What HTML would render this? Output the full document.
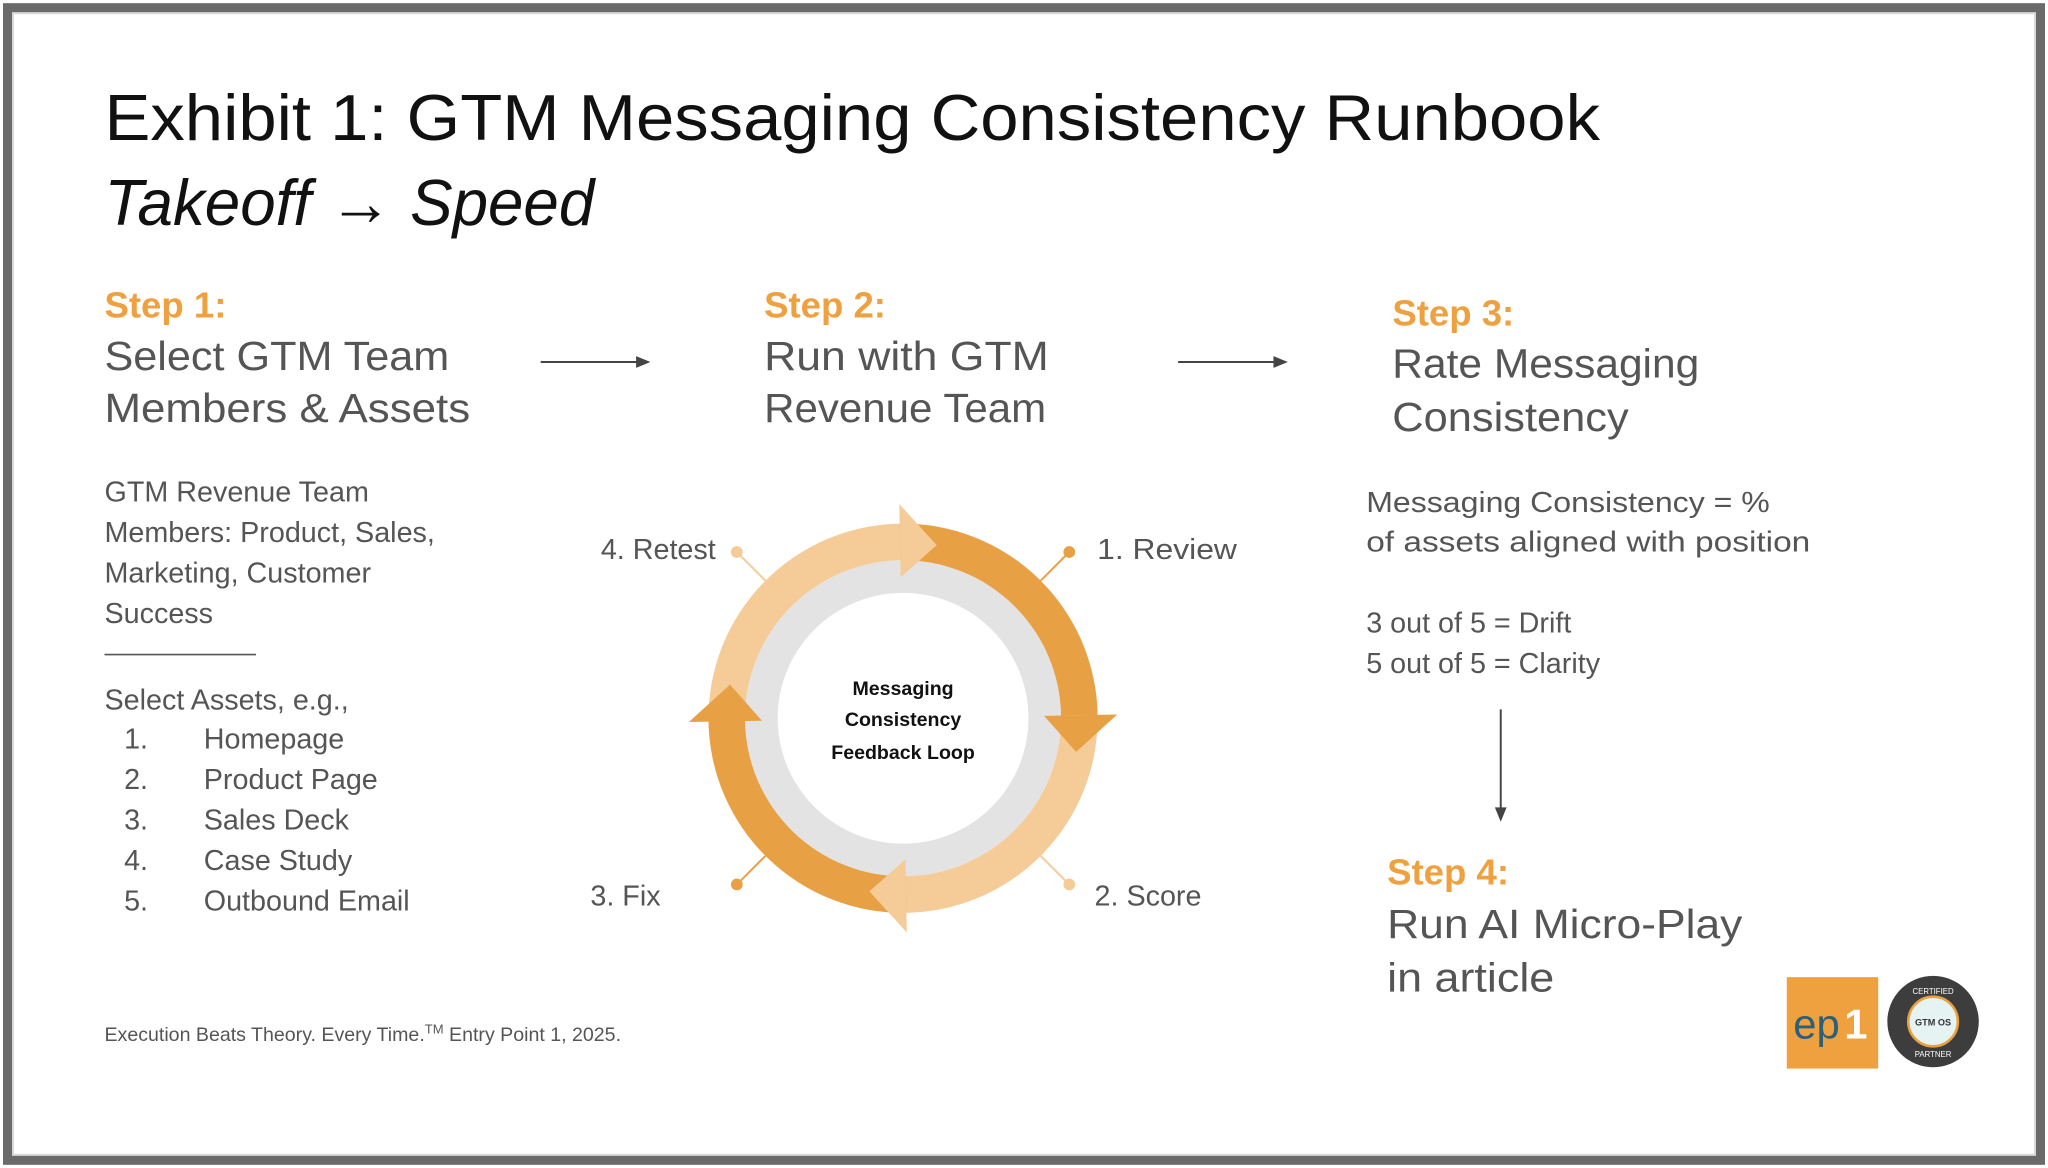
<!DOCTYPE html>
<html><head><meta charset="utf-8"><style>
html,body{margin:0;padding:0;background:#fff;}
svg{display:block;}
text{font-family:"Liberation Sans",sans-serif;}
</style></head><body>
<svg id="s" width="2048" height="1168" viewBox="0 0 1568 894" xmlns="http://www.w3.org/2000/svg">
<rect x="0" y="0" width="1568" height="894" fill="#fff"/>
<rect x="5.8" y="5.8" width="1556.4" height="882.4" fill="none" stroke="#6a6a6a" stroke-width="7"/>
<rect x="10" y="10" width="1548" height="874" fill="none" stroke="#d8d8d8" stroke-width="1.5"/>

<text x="80" y="107" font-size="50" fill="#111" textLength="1145" lengthAdjust="spacingAndGlyphs">Exhibit 1: GTM Messaging Consistency Runbook</text>
<text x="80" y="172" font-size="50" font-style="italic" fill="#111" textLength="375" lengthAdjust="spacingAndGlyphs">Takeoff → Speed</text>

<g font-weight="bold" fill="#EFA03F" font-size="28">
<text x="80" y="243">Step 1:</text>
<text x="585" y="243">Step 2:</text>
<text x="1066" y="249">Step 3:</text>
<text x="1062" y="677">Step 4:</text>
</g>
<g fill="#555" font-size="31">
<text x="80" y="283" textLength="264" lengthAdjust="spacingAndGlyphs">Select GTM Team</text>
<text x="80" y="323" textLength="280" lengthAdjust="spacingAndGlyphs">Members &amp; Assets</text>
<text x="585" y="283" textLength="218" lengthAdjust="spacingAndGlyphs">Run with GTM</text>
<text x="585" y="323" textLength="216" lengthAdjust="spacingAndGlyphs">Revenue Team</text>
<text x="1066" y="289" textLength="235" lengthAdjust="spacingAndGlyphs">Rate Messaging</text>
<text x="1066" y="330" textLength="181" lengthAdjust="spacingAndGlyphs">Consistency</text>
<text x="1062" y="718" textLength="272" lengthAdjust="spacingAndGlyphs">Run AI Micro-Play</text>
<text x="1062" y="759" textLength="128" lengthAdjust="spacingAndGlyphs">in article</text>
</g>

<g fill="#555" font-size="22">
<text x="80" y="384">GTM Revenue Team</text>
<text x="80" y="415">Members: Product, Sales,</text>
<text x="80" y="446">Marketing, Customer</text>
<text x="80" y="477">Success</text>
<text x="80" y="543">Select Assets, e.g.,</text>
<text x="95" y="573">1.</text><text x="156" y="573">Homepage</text>
<text x="95" y="604">2.</text><text x="156" y="604">Product Page</text>
<text x="95" y="635">3.</text><text x="156" y="635">Sales Deck</text>
<text x="95" y="666">4.</text><text x="156" y="666">Case Study</text>
<text x="95" y="697">5.</text><text x="156" y="697">Outbound Email</text>
<text x="1046" y="392" textLength="309" lengthAdjust="spacingAndGlyphs">Messaging Consistency = %</text>
<text x="1046" y="422" textLength="340" lengthAdjust="spacingAndGlyphs">of assets aligned with position</text>
<text x="1046" y="484">3 out of 5 = Drift</text>
<text x="1046" y="515">5 out of 5 = Clarity</text>
<text x="548" y="428" text-anchor="end">4. Retest</text>
<text x="840" y="428" textLength="107" lengthAdjust="spacingAndGlyphs">1. Review</text>
<text x="452" y="693">3. Fix</text>
<text x="838" y="693">2. Score</text>
</g>
<line x1="80" y1="501" x2="196" y2="501" stroke="#555" stroke-width="1.2"/>
<text x="80" y="797" font-size="15" fill="#555">Execution Beats Theory. Every Time.<tspan font-size="10" dy="-6">TM</tspan><tspan dy="6"> Entry Point 1, 2025.</tspan></text>

<g stroke="#444" stroke-width="1.5" fill="#444">
<line x1="414" y1="277" x2="490" y2="277"/><path d="M498 277 L487 272.5 L487 281.5Z" stroke="none"/>
<line x1="902" y1="277" x2="978" y2="277"/><path d="M986 277 L975 272.5 L975 281.5Z" stroke="none"/>
<line x1="1149" y1="543" x2="1149" y2="620"/><path d="M1149 629 L1144.5 618 L1153.5 618Z" stroke="none"/>
</g>

<g id="ring"></g>

<rect x="1368" y="748" width="70" height="70" fill="#EFA03F"/>
<text x="1373" y="795" font-size="32" fill="#2c5f78">ep</text><text x="1412" y="795" font-size="32" fill="#fff" font-weight="bold">1</text>
<circle cx="1480" cy="782" r="35" fill="#3d3d3d"/>
<circle cx="1480" cy="782" r="19" fill="#e6f3f3" stroke="#e8a040" stroke-width="2"/>
<text x="1480" y="785" font-size="7" font-weight="bold" fill="#333" text-anchor="middle">GTM OS</text>
<text x="1480" y="761" font-size="6" fill="#fff" text-anchor="middle">CERTIFIED</text>
<text x="1480" y="809" font-size="6" fill="#fff" text-anchor="middle">PARTNER</text>
</svg>
<script>
(function(){
var cx=691.4,cy=549.8,ri=121,ro=149,hi=108,ho=164,ns="http://www.w3.org/2000/svg";
var g=document.getElementById('ring');
function P(r,a){a=a*Math.PI/180;return (cx+r*Math.cos(a)).toFixed(2)+' '+(cy+r*Math.sin(a)).toFixed(2);}
function add(tag,attrs){var e=document.createElementNS(ns,tag);for(var k in attrs)e.setAttribute(k,attrs[k]);g.appendChild(e);return e;}
add('circle',{cx:cx,cy:cy,r:ri,fill:'#e3e3e3'});
add('circle',{cx:cx,cy:cy,r:96,fill:'#fff'});
var tips=[-79,11,101,191],cols=['#F5CC98','#E8A045','#F5CC98','#E8A045'];
var L=12;
var bodies=[],heads=[];
for(var k=0;k<4;k++){
 var end=tips[k]-L,start=tips[(k+3)%4]-L;
 if(start>end)start-=360;
 var d='M'+P(ro,start)+' A'+ro+' '+ro+' 0 0 1 '+P(ro,end+0.5)+' L'+P(ri,end+0.5)+' A'+ri+' '+ri+' 0 0 0 '+P(ri,start)+'Z';
 bodies.push([d,cols[k]]);
 heads.push(['M'+P(ho,end)+' L'+P((ri+ro)/2,tips[k])+' L'+P(hi,end)+'Z',cols[k]]);
}
bodies.forEach(function(b){add('path',{d:b[0],fill:b[1]});});
heads.forEach(function(b){add('path',{d:b[0],fill:b[1]});});
var pins=[[-135,'#F5CC98'],[-45,'#E8A045'],[45,'#F5CC98'],[135,'#E8A045']];
pins.forEach(function(p){
 var a=p[0]*Math.PI/180;
 add('line',{x1:cx+ro*Math.cos(a),y1:cy+ro*Math.sin(a),x2:cx+178*Math.cos(a),y2:cy+178*Math.sin(a),stroke:p[1],'stroke-width':1.5});
 add('circle',{cx:cx+180*Math.cos(a),cy:cy+180*Math.sin(a),r:4.5,fill:p[1]});
});
var t=[['Messaging',-23],['Consistency',1],['Feedback Loop',26]];
t.forEach(function(x){var e=add('text',{x:cx,y:cy+x[1]+5,'font-size':15,'font-weight':'bold','text-anchor':'middle',fill:'#111'});e.textContent=x[0];});
})();
</script>
</body></html>
